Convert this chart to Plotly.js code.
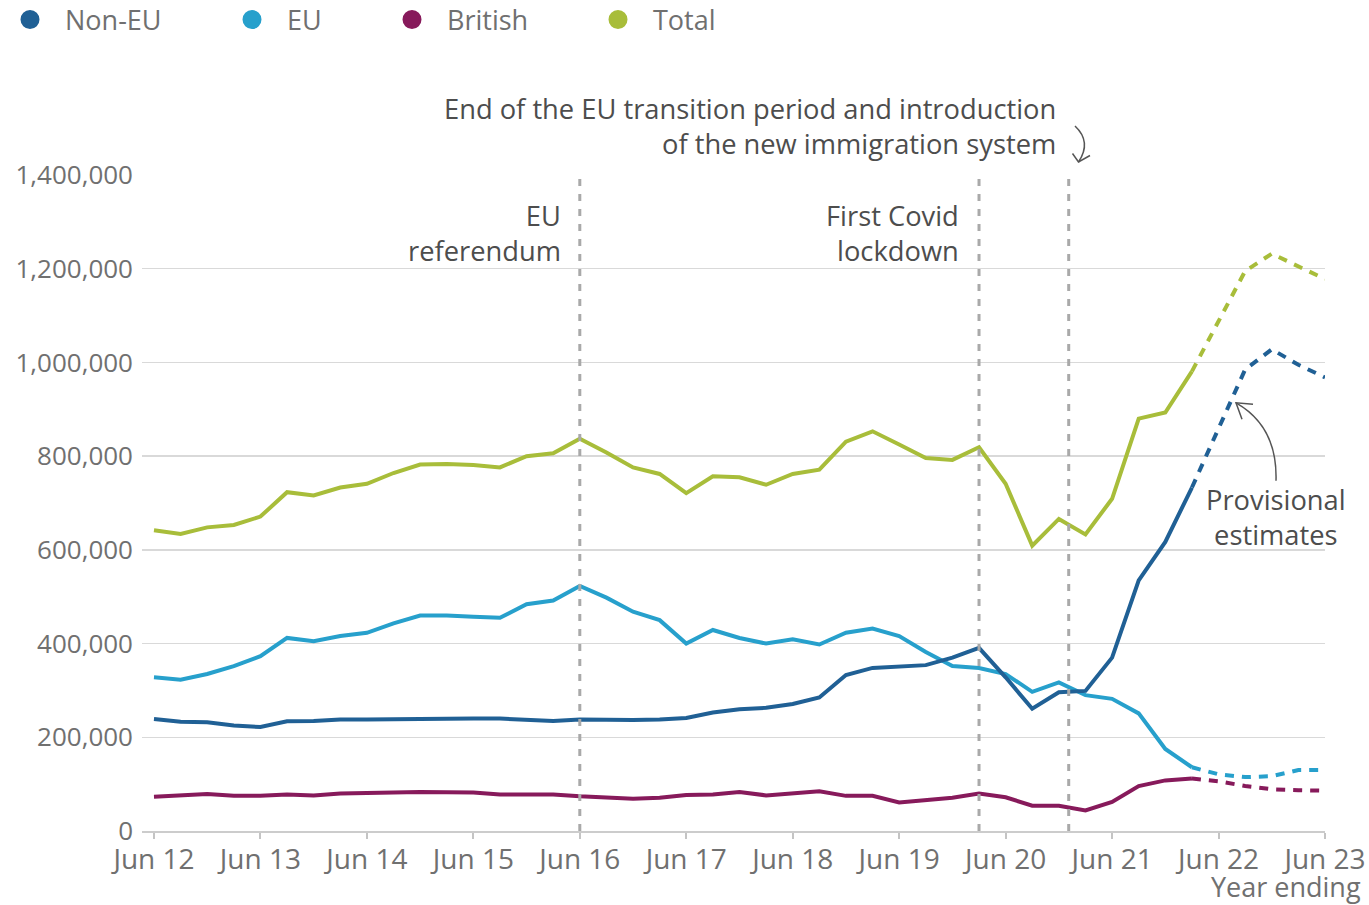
<!DOCTYPE html>
<html>
<head>
<meta charset="utf-8">
<script src="https://cdn.plot.ly/plotly-3.0.1.min.js"></script>
<style>
  html, body { margin: 0; padding: 0; background: #ffffff; }
  #chart { width: 1369px; height: 905px; }
</style>
</head>
<body>
<div id="chart"></div>
<script>
// ---- Data (year ending, quarterly) ----
const quarters = ["Jun 12","Sep 12","Dec 12","Mar 13","Jun 13","Sep 13","Dec 13","Mar 14","Jun 14","Sep 14","Dec 14","Mar 15","Jun 15","Sep 15","Dec 15","Mar 16","Jun 16","Sep 16","Dec 16","Mar 17","Jun 17","Sep 17","Dec 17","Mar 18","Jun 18","Sep 18","Dec 18","Mar 19","Jun 19","Sep 19","Dec 19","Mar 20","Jun 20","Sep 20","Dec 20","Mar 21","Jun 21","Sep 21","Dec 21","Mar 22","Jun 22","Sep 22","Dec 22","Mar 23","Jun 23"];
const tickLabels = ["Jun 12","Jun 13","Jun 14","Jun 15","Jun 16","Jun 17","Jun 18","Jun 19","Jun 20","Jun 21","Jun 22","Jun 23"];
const seriesNames = ["Non-EU", "EU", "British", "Total"];

const nonEU = [239000,233000,232000,225000,222000,234000,235000,238000,238000,239000,240000,240000,240000,240000,238000,235000,238000,237000,237000,238000,241000,253000,260000,263000,271000,285000,333000,348000,350000,354000,370000,391000,328000,261000,296000,299000,370000,535000,617000,733000,860000,985000,1028000,995000,968000];
const eu = [328000,323000,335000,352000,373000,412000,405000,416000,423000,443000,460000,460000,457000,455000,484000,492000,523000,498000,468000,450000,400000,429000,412000,400000,409000,398000,423000,432000,416000,382000,352000,348000,335000,297000,317000,290000,282000,251000,175000,136000,121000,115000,117000,130000,130000];
const british = [73000,76000,79000,75000,75000,78000,76000,80000,82000,82000,83000,83000,82000,78000,78000,78000,74000,71000,69000,71000,77000,78000,83000,76000,81000,85000,75000,75000,61000,66000,71000,80000,72000,54000,54000,44000,62000,96000,108000,112000,106000,96000,89000,87000,86000];
const total = [642000,634000,648000,653000,671000,723000,716000,733000,741000,764000,782000,783000,781000,776000,800000,806000,837000,808000,776000,762000,721000,757000,755000,739000,762000,771000,831000,853000,825000,796000,792000,819000,741000,609000,666000,633000,709000,880000,893000,981000,1087000,1195000,1232000,1205000,1178000];

const provisionalStart = "Mar 22"; // last firm estimate, dashed from here on

const colors = { "Non-EU": "#206095", "EU": "#27a0cc", "British": "#871a5b", "Total": "#a8bd3a" };
const valuesByName = { "Non-EU": nonEU, "EU": eu, "British": british, "Total": total };

// ---- Build traces ----
const split = quarters.indexOf(provisionalStart);
const traces = [];
["Total", "EU", "Non-EU", "British"].forEach(function (name) {
  const vals = valuesByName[name];
  traces.push({
    type: "scatter", mode: "lines", name: name, showlegend: false, hoverinfo: "x+y",
    x: quarters.slice(0, split + 1), y: vals.slice(0, split + 1),
    line: { color: colors[name], width: 4 }
  });
  traces.push({
    type: "scatter", mode: "lines", name: name + " (provisional)", showlegend: false, hoverinfo: "x+y",
    x: quarters.slice(split), y: vals.slice(split),
    line: { color: colors[name], width: 4, dash: "9px,8px" }
  });
});
// legend entries (circle symbols)
const legendWidths = { "Non-EU": 152, "EU": 90, "British": 136, "Total": 100 };
seriesNames.forEach(function (name) {
  traces.push({
    type: "scatter", mode: "markers", name: name, x: [null], y: [null],
    legendwidth: legendWidths[name],
    marker: { color: colors[name], size: 16, line: { color: colors[name], width: 3 } }
  });
});

// ---- pixel helpers for annotation decorations ----
const W = 1369, H = 905;
const L = 142, R = 1325, T = 175, B = 831.5;
function px(x) { return (x - L) / (R - L); }
function py(y) { return (B - y) / (B - T); }
function path(cmds) {
  return cmds.map(function (c) {
    return c[0] + " " + c.slice(1).reduce(function (acc, v, i) {
      if (i % 2 === 0) acc.push(px(v).toFixed(5)); else acc.push(py(v).toFixed(5));
      return acc;
    }, []).join(" ");
  }).join(" ");
}

const annColor = "#4d4d4d";
const tickColor = "#707070";
const fontFam = "'Open Sans', 'Noto Sans', sans-serif";
const annSize = 27.3;

const vlineStyle = { color: "#a9a9a9", width: 3, dash: "7px,8px" };

function blockAnn(text, xref, x, xshift, yPix, xanchor, align) {
  return { xref: xref, yref: "paper", x: x, y: py(yPix), xanchor: xanchor, yanchor: "middle",
    xshift: xshift, text: text, align: align, showarrow: false, font: { size: annSize, color: annColor } };
}

const layout = {
  width: W, height: H,
  margin: { l: L, r: W - R, t: T, b: H - B },
  paper_bgcolor: "#ffffff", plot_bgcolor: "#ffffff",
  font: { family: fontFam, size: 26, color: tickColor },
  showlegend: true,
  legend: {
    orientation: "h", xref: "container", yref: "container",
    x: 0, y: 1 - 20 / H, xanchor: "left", yanchor: "middle",
    indentation: -5,
    itemwidth: 60, font: { size: 27, color: tickColor },
    traceorder: "normal", bgcolor: "rgba(0,0,0,0)"
  },
  xaxis: {
    type: "category", categoryorder: "array", categoryarray: quarters,
    range: [-0.45, quarters.length - 1],
    tickvals: tickLabels, ticktext: tickLabels,
    ticks: "outside", ticklen: 6, tickwidth: 2, tickcolor: "#c4c4c4",
    ticklabelstandoff: -4,
    showline: true, linecolor: "#cccccc", linewidth: 2,
    showgrid: false, zeroline: false,
    tickfont: { size: 28, color: tickColor },
    fixedrange: true
  },
  yaxis: {
    range: [0, 1400000], dtick: 200000, tickformat: ",d",
    showgrid: true, gridcolor: "#d9d9d9", gridwidth: 1.5,
    zeroline: false, showline: false, ticks: "",
    ticklabelstandoff: 8,
    tickfont: { size: 26, color: tickColor },
    fixedrange: true
  },
  shapes: [
    { type: "line", xref: "x", yref: "paper", x0: 16, x1: 16, y0: 0, y1: 1, line: vlineStyle, layer: "above" },
    { type: "line", xref: "x", yref: "paper", x0: 31, x1: 31, y0: 0, y1: 1, line: vlineStyle, layer: "above" },
    { type: "line", xref: "x", yref: "paper", x0: 34.37, x1: 34.37, y0: 0, y1: 1, line: vlineStyle, layer: "above" },
    // curved arrow for the transition label
    { type: "path", xref: "paper", yref: "paper", layer: "above",
      path: path([["M", 1075, 126], ["Q", 1092, 142, 1078.5, 162]]),
      line: { color: "#555555", width: 1.5 } },
    { type: "path", xref: "paper", yref: "paper", layer: "above",
      path: path([["M", 1072.5, 153.5], ["L", 1078.5, 162], ["L", 1090, 155.5]]),
      line: { color: "#555555", width: 1.5 } },
    // curved arrow for provisional estimates
    { type: "path", xref: "paper", yref: "paper", layer: "above",
      path: path([["M", 1276, 481], ["C", 1277, 448, 1266, 420, 1236, 403]]),
      line: { color: "#555555", width: 1.5 } },
    { type: "path", xref: "paper", yref: "paper", layer: "above",
      path: path([["M", 1253, 404.5], ["L", 1236, 403], ["L", 1242, 419.5]]),
      line: { color: "#555555", width: 1.5 } }
  ],
  annotations: [
    blockAnn("EU<br>referendum", "x", 16, -17, 233, "right", "right"),
    blockAnn("First Covid<br>lockdown", "x", 31, -18, 233, "right", "right"),
    blockAnn("End of the EU transition period and introduction<br>of the new immigration system", "x", 34.37, -11, 126, "right", "right"),
    blockAnn("Provisional<br>estimates", "paper", px(1276), 0, 517, "center", "center"),
    { xref: "paper", yref: "paper", x: px(1363), y: py(887), xanchor: "right", yanchor: "middle",
      text: "Year ending", showarrow: false,
      font: { size: 27, color: tickColor } }
  ]
};

Plotly.newPlot("chart", traces, layout, { displayModeBar: false, staticPlot: true });
</script>
</body>
</html>
